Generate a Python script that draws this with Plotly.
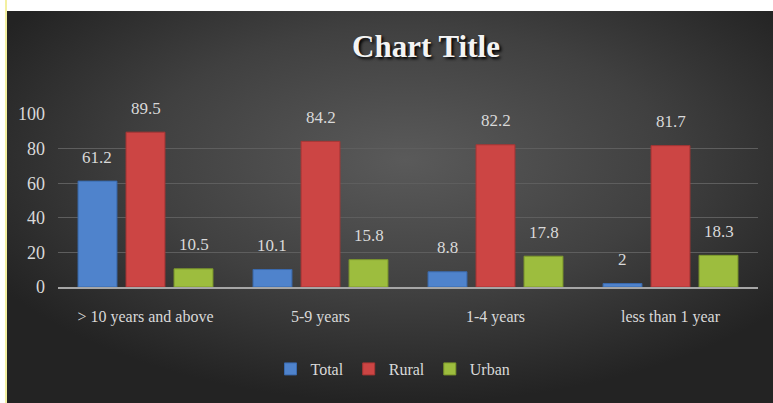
import base64
import plotly.graph_objects as go

categories = ["> 10 years and above", "5-9 years", "1-4 years", "less than 1 year"]
total = [61.2, 10.1, 8.8, 2]
rural = [89.5, 84.2, 82.2, 81.7]
urban = [10.5, 15.8, 17.8, 18.3]
y_ticks = [0, 20, 40, 60, 80, 100]

W, H = 773, 403
L, R, T, B = 58, 15, 114, 116
PW, PH = W - L - R, H - T - B
BARGAP, GROUPGAP = 0.177, 0.19

svg = f"""<svg xmlns='http://www.w3.org/2000/svg' width='{W}' height='{H}' viewBox='0 0 {W} {H}' preserveAspectRatio='none'>
<defs><radialGradient id='g' cx='0.52' cy='0.38' r='0.62'>
<stop offset='0' stop-color='#5a5a5a'/><stop offset='0.55' stop-color='#404040'/><stop offset='1' stop-color='#232323'/>
</radialGradient></defs>
<rect x='0' y='0' width='{W}' height='{H}' fill='#ffffff'/>
<rect x='5' y='0' width='2' height='{H}' fill='#f3f0a0'/>
<rect x='7' y='11' width='{W-7}' height='{H-11}' fill='url(#g)'/>
</svg>"""
src = "data:image/svg+xml;base64," + base64.b64encode(svg.encode()).decode()

font = "Liberation Serif, DejaVu Serif, serif"
txtcol = "#d9d9d9"

series = [
    ("Total", total, "#4f83cc", "#3a6aae"),
    ("Rural", rural, "#cc4544", "#a83534"),
    ("Urban", urban, "#9dbd3e", "#7e9a2c"),
]

fig = go.Figure()
for name, vals, col, line in series:
    fig.add_trace(go.Bar(
        name=name, x=categories, y=vals,
        marker=dict(color=col, line=dict(color=line, width=1)),
        cliponaxis=False,
    ))

# data labels: placed at each bar's value, shifted to its slot within the group
slot = PW / len(categories) * (1 - BARGAP) / len(series)
annotations = []
for i, (name, vals, col, line) in enumerate(series):
    for c, v in zip(categories, vals):
        annotations.append(dict(
            x=c, y=v, xref="x", yref="y", text=f"{v:g}", showarrow=False,
            xshift=(i - (len(series) - 1) / 2) * slot, yshift=24,
            yanchor="middle", xanchor="center",
            font=dict(family=font, size=17, color=txtcol),
        ))

fig.update_layout(
    width=W, height=H,
    margin=dict(l=L, r=R, t=T, b=B),
    paper_bgcolor="#ffffff",
    plot_bgcolor="rgba(0,0,0,0)",
    barmode="group", bargap=BARGAP, bargroupgap=GROUPGAP,
    annotations=annotations,
    images=[dict(source=src, xref="paper", yref="paper",
                 x=-L / PW, y=(PH + T) / PH, sizex=W / PW, sizey=H / PH,
                 xanchor="left", yanchor="top", sizing="stretch", layer="below")],
    title=dict(text="Chart Title", x=(426 - L) / PW, xref="paper", xanchor="center",
               y=(H - 46) / H, yanchor="middle",
               font=dict(family=font, size=31, color="#f4f4f4", weight="bold",
                         shadow="2px 2px 3px #000000")),
    xaxis=dict(showgrid=False, showline=True, linecolor="#a6a6a6", linewidth=2,
               tickfont=dict(family=font, size=16, color=txtcol),
               ticks="", ticklabelstandoff=14),
    yaxis=dict(range=[0, 100], tickvals=y_ticks, showgrid=True, gridcolor="#5e5e5e",
               gridwidth=1, zeroline=False, showline=False,
               tickfont=dict(family=font, size=18, color=txtcol),
               ticks="", ticklabelstandoff=12),
    legend=dict(orientation="h", x=(393 - L) / PW, xanchor="center",
                y=(PH - (369 - T)) / PH, yanchor="middle",
                font=dict(family=font, size=16, color=txtcol),
                bgcolor="rgba(0,0,0,0)", itemwidth=30),
    font=dict(family=font, color=txtcol),
)

fig.write_html("out.html", config={"displayModeBar": False},
               post_script="document.body.style.margin='0';")
